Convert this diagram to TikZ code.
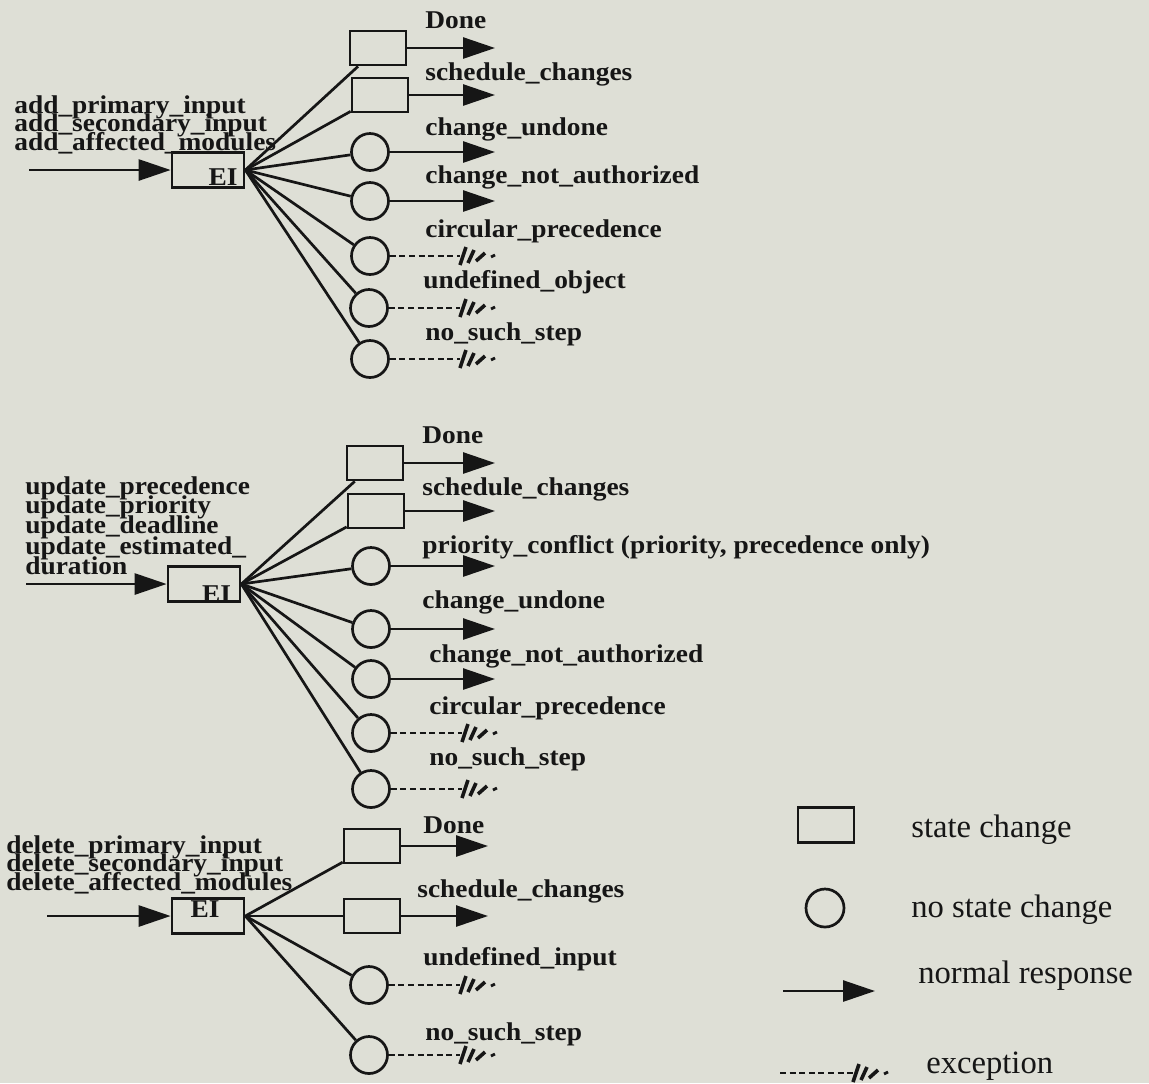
\documentclass[tikz,border=0pt]{standalone}
\usepackage{fontspec}
\setmainfont{Liberation Serif}
\newfontfamily\respfont[FakeStretch=1.07]{Liberation Serif}
\usetikzlibrary{positioning, arrows.meta}
\definecolor{paper}{RGB}{222,223,214}
\definecolor{ink}{RGB}{22,22,22}

\begin{document}
\begin{tikzpicture}[
    x = 0.5pt, y = -0.5pt,
    > = {Triangle[length=16pt, width=10.5pt]},
    line width = 1.35pt,
    color = ink
]

% Setup the styles for the boxes, circles and arrows
\tikzstyle{ei}=[draw, rectangle, minimum width=36pt, minimum height=17.5pt, inner sep=0pt]
\tikzstyle{chg}=[draw, rectangle, minimum width=28pt, minimum height=17pt, inner sep=0pt]
\tikzstyle{nochg}=[draw, circle, minimum size=18.5pt, inner sep=0pt]
\tikzstyle{resp}=[->]
\tikzstyle{exc}=[dash pattern=on 3pt off 1.8pt, line width=1.2pt]
\tikzstyle{lbl}=[anchor=base west, inner sep=0pt, font=\respfont\bfseries\fontsize{12.8}{12.8}\selectfont]
\tikzstyle{keytext}=[anchor=base west, inner sep=0pt, font=\fontsize{16.3}{16.3}\selectfont]
\tikzset{hatch/.pic={
    \draw[solid, line width=1.8pt] (0,9) -- (6,-9) (8,7) -- (14,-6) (16,5) -- (25,-3);
    \draw[solid, line width=1.4pt] (31,1) -- (35,-1);
}}

% Paper
\fill[paper] (0,0) rectangle (1149,1083);

% Draw the first group (add)
\node[lbl] (in1a) at (13,113) {add\_primary\_input};
\node[lbl] (in1b) at (13,131) {add\_secondary\_input};
\node[lbl] (in1c) at (13,150) {add\_affected\_modules};
\node[ei, label={[lbl, anchor=center, xshift=7.5pt, yshift=-3.5pt]center:EI}] (ei1) at (208,170) {};
\coordinate (src1) at (29,170);
\coordinate (tip1) at (495,0);
\coordinate (cut1) at (460,0);

\node[chg]   (a1) at (378,48)  {};
\node[chg]   (a2) at (380,95)  {};
\node[nochg] (a3) at (370,152) {};
\node[nochg] (a4) at (370,201) {};
\node[nochg] (a5) at (370,256) {};
\node[nochg] (a6) at (369,308) {};
\node[nochg] (a7) at (370,359) {};

\node[lbl] (a1t) at (424,28)  {Done};
\node[lbl] (a2t) at (424,80)  {schedule\_changes};
\node[lbl] (a3t) at (424,135) {change\_undone};
\node[lbl] (a4t) at (424,183) {change\_not\_authorized};
\node[lbl] (a5t) at (424,237) {circular\_precedence};
\node[lbl] (a6t) at (422,288) {undefined\_object};
\node[lbl] (a7t) at (424,340) {no\_such\_step};

\draw[resp] (src1) -- (ei1);
\draw (ei1.east) edge (a1) edge (a2) edge (a3) edge (a4) edge (a5) edge (a6) edge (a7);
\draw[resp] (a1) -- (a1 -| tip1);
\draw[resp] (a2) -- (a2 -| tip1);
\draw[resp] (a3) -- (a3 -| tip1);
\draw[resp] (a4) -- (a4 -| tip1);
\draw[exc] (a5) -- (a5 -| cut1) pic{hatch};
\draw[exc] (a6) -- (a6 -| cut1) pic{hatch};
\draw[exc] (a7) -- (a7 -| cut1) pic{hatch};

% Draw the second group (update)
\node[lbl] (in2a) at (24,494) {update\_precedence};
\node[lbl] (in2b) at (24,513) {update\_priority};
\node[lbl] (in2c) at (24,533) {update\_deadline};
\node[lbl] (in2d) at (24,554) {update\_estimated\_};
\node[lbl] (in2e) at (24,574) {duration};
\node[ei, label={[lbl, anchor=center, xshift=6.25pt, yshift=-5pt]center:EI}] (ei2) at (204,584) {};
\coordinate (src2) at (26,584);
\coordinate (tip2) at (495,0);
\coordinate (cut2) at (462,0);

\node[chg]   (b1) at (375,463) {};
\node[chg]   (b2) at (376,511) {};
\node[nochg] (b3) at (371,566) {};
\node[nochg] (b4) at (371,629) {};
\node[nochg] (b5) at (371,679) {};
\node[nochg] (b6) at (371,733) {};
\node[nochg] (b7) at (371,789) {};

\node[lbl] (b1t) at (421,443) {Done};
\node[lbl] (b2t) at (421,495) {schedule\_changes};
\node[lbl] (b3t) at (421,553) {priority\_conflict (priority, precedence only)};
\node[lbl] (b4t) at (421,608) {change\_undone};
\node[lbl] (b5t) at (428,662) {change\_not\_authorized};
\node[lbl] (b6t) at (428,714) {circular\_precedence};
\node[lbl] (b7t) at (428,765) {no\_such\_step};

\draw[resp] (src2) -- (ei2);
\draw (ei2.east) edge (b1) edge (b2) edge (b3) edge (b4) edge (b5) edge (b6) edge (b7);
\draw[resp] (b1) -- (b1 -| tip2);
\draw[resp] (b2) -- (b2 -| tip2);
\draw[resp] (b3) -- (b3 -| tip2);
\draw[resp] (b4) -- (b4 -| tip2);
\draw[resp] (b5) -- (b5 -| tip2);
\draw[exc] (b6) -- (b6 -| cut2) pic{hatch};
\draw[exc] (b7) -- (b7 -| cut2) pic{hatch};

% Draw the third group (delete)
\node[lbl] (in3a) at (5,853) {delete\_primary\_input};
\node[lbl] (in3b) at (5,871) {delete\_secondary\_input};
\node[lbl] (in3c) at (5,890) {delete\_affected\_modules};
\node[ei, label={[lbl, anchor=center, xshift=-1.5pt, yshift=3.5pt]center:EI}] (ei3) at (208,916) {};
\coordinate (src3) at (47,916);
\coordinate (tip3) at (488,0);
\coordinate (cut3) at (460,0);

\node[chg]   (c1) at (372,846)  {};
\node[chg]   (c2) at (372,916)  {};
\node[nochg] (c3) at (369,985)  {};
\node[nochg] (c4) at (369,1055) {};

\node[lbl] (c1t) at (422,833)  {Done};
\node[lbl] (c2t) at (416,897)  {schedule\_changes};
\node[lbl] (c3t) at (422,965)  {undefined\_input};
\node[lbl] (c4t) at (424,1040) {no\_such\_step};

\draw[resp] (src3) -- (ei3);
\draw (ei3.east) edge (c1) edge (c2) edge (c3) edge (c4);
\draw[resp] (c1) -- (c1 -| tip3);
\draw[resp] (c2) -- (c2 -| tip3);
\draw[exc] (c3) -- (c3 -| cut3) pic{hatch};
\draw[exc] (c4) -- (c4 -| cut3) pic{hatch};

% Legend
\node[chg, minimum height=17.5pt] (kchg) at (826,825) {};
\node[nochg, minimum size=19pt] (knochg) at (825,908) {};
\coordinate (kr0) at (783,991);
\coordinate (kr1) at (875,991);
\coordinate (ke0) at (780,1073);
\coordinate (ke1) at (853,1073);
\draw[resp] (kr0) -- (kr1);
\draw[exc] (ke0) -- (ke1) pic{hatch};

\node[keytext] (kchgt)   at (910,837)  {state change};
\node[keytext] (knochgt) at (910,917)  {no state change};
\node[keytext] (krt)     at (917,983)  {normal response};
\node[keytext] (ket)     at (925,1073) {exception};

\end{tikzpicture}
\end{document}
